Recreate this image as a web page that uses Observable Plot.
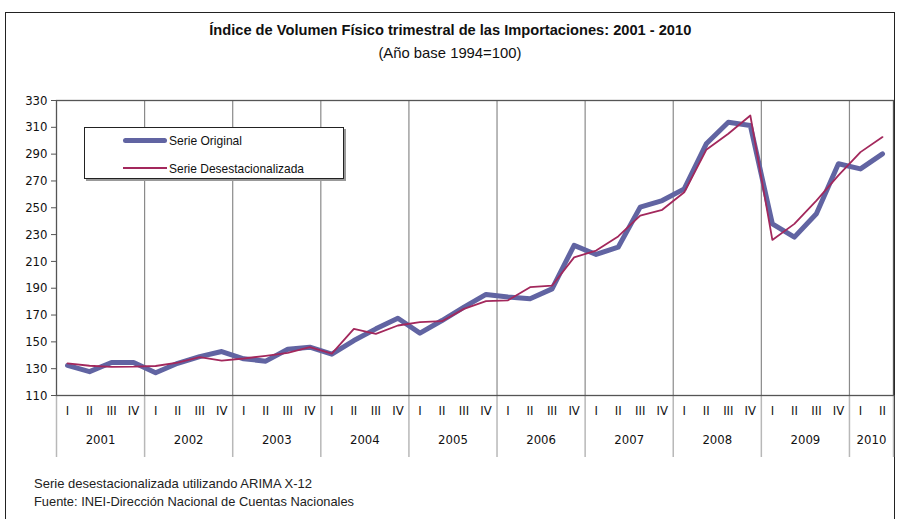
<!DOCTYPE html>
<html>
<head>
<meta charset="utf-8">
<script src="https://cdn.jsdelivr.net/npm/d3@7"></script>
<script src="https://cdn.jsdelivr.net/npm/@observablehq/plot@0.6"></script>
<style>
  html, body { margin: 0; padding: 0; background: #fff; }
  #wrap { position: relative; width: 900px; height: 519px; overflow: hidden;
    font-family: "Liberation Sans", Arial, sans-serif; color: #111; }
  #frame { position: absolute; left: 5px; top: 12px; width: 890px; height: 600px; border: 1.5px solid #222; box-sizing: border-box; }
  #chart { position: absolute; left: 0; top: 0; }
  .title { position: absolute; left: 0; width: 900px; text-align: center; white-space: nowrap; }
  .title span, #notes span, .li span { display: inline-block; white-space: nowrap; }
  #t1 { top: 21px; font-size: 15.5px; font-weight: bold; }
  #t2 { top: 45px; font-size: 14.5px; }
  #legend { position: absolute; left: 84px; top: 127px; width: 260px; height: 52px; border: 1px solid #222;
    background: #fff; box-sizing: border-box; box-shadow: 2px 2px 0 #999; font-size: 13.5px; }
  .li { position: absolute; left: 38px; height: 16px; display: flex; align-items: center; }
  .sw { width: 44px; margin-right: 2px; flex: none; }
  #notes { position: absolute; left: 34px; top: 475px; font-size: 13.5px; line-height: 18px; color: #222; }
  #notes div { height: 18px; }
</style>
</head>
<body>
<div id="wrap">
  <div id="frame"></div>
  <div id="chart"></div>
  <div class="title" id="t1"><span data-w="482">Índice de Volumen Físico trimestral de las Importaciones: 2001 - 2010</span></div>
  <div class="title" id="t2"><span data-w="143">(Año base 1994=100)</span></div>
  <div id="legend"></div>
  <div id="notes">
    <div><span data-w="278" data-left="1">Serie desestacionalizada utilizando ARIMA X-12</span></div>
    <div><span data-w="320" data-left="1">Fuente: INEI-Dirección Nacional de Cuentas Nacionales</span></div>
  </div>
</div>
<script>
const years = [2001, 2002, 2003, 2004, 2005, 2006, 2007, 2008, 2009, 2010];
const quarterLabels = ["I", "II", "III", "IV"];
const seriesNames = ["Serie Original", "Serie Desestacionalizada"];
const seriesColors = ["#6164a2", "#a3285c"];
const yTicks = [110, 130, 150, 170, 190, 210, 230, 250, 270, 290, 310, 330];

const original = [132.4, 127.8, 134.6, 134.6, 127.0, 134.0, 139.0, 142.8,
  137.4, 135.6, 144.5, 146.0, 140.8, 151.0, 159.7, 167.6,
  156.5, 165.9, 175.9, 185.4, 183.4, 182.1, 189.5, 222.0,
  215.2, 220.6, 250.5, 255.4, 264.1, 297.7, 313.8, 311.4,
  238.0, 228.1, 245.5, 282.8, 279.0, 290.2];
const desest = [134.0, 132.2, 131.4, 131.5, 132.0, 134.6, 138.6, 136.0,
  137.6, 139.6, 141.8, 146.0, 141.3, 159.7, 156.0, 162.2,
  164.7, 165.4, 174.6, 180.4, 181.0, 190.8, 192.0, 213.0,
  218.1, 228.6, 244.2, 248.5, 261.6, 293.2, 305.2, 318.8,
  226.0, 238.0, 255.4, 274.1, 291.5, 302.7];

const n = original.length;
const rows = d3.range(n).map(i => ({
  i,
  pos: i + 0.5,
  q: quarterLabels[i % 4],
  year: years[Math.floor(i / 4)],
  original: original[i],
  desest: desest[i]
}));
const yearRows = years.map((y, k) => {
  const start = k * 4, end = Math.min(start + 4, n);
  return { year: y, center: (start + end) / 2 };
});
const boundaries = years.map((y, k) => k * 4).concat([n]);

const chart = Plot.plot({
  width: 900,
  height: 519,
  marginLeft: 56,
  marginRight: 7,
  marginTop: 100,
  marginBottom: 124,
  style: { fontFamily: '"DejaVu Sans Condensed", "Liberation Sans", sans-serif', fontSize: "13px", color: "#111", background: "transparent" },
  x: { domain: [0, n], axis: null },
  y: { domain: [110, 330], ticks: yTicks, tickSize: 5, tickPadding: 4, label: null, tickFormat: d => String(d) },
  marks: [
    Plot.ruleX(boundaries.filter(b => b > 0 && b < n), { stroke: "#8a8a8a", strokeWidth: 1.2 }),
    Plot.ruleX(boundaries, { stroke: "#b8b8b8", strokeWidth: 1.5, insetTop: 295, insetBottom: -62 }),
    Plot.frame({ stroke: "#555", strokeWidth: 1.3 }),
    Plot.axisY({ ticks: yTicks, tickSize: 5, tickPadding: 4, stroke: "#555", fontSize: 13 }),
    Plot.line(rows, { x: "pos", y: "original", stroke: seriesColors[0], strokeWidth: 5, strokeLinejoin: "round" }),
    Plot.line(rows, { x: "pos", y: "desest", stroke: seriesColors[1], strokeWidth: 1.8, strokeLinejoin: "round" }),
    Plot.text(rows, { x: "pos", text: "q", frameAnchor: "bottom", dy: 19, fontSize: 13, fill: "#111" }),
    Plot.text(yearRows, { x: "center", text: d => String(d.year), frameAnchor: "bottom", dy: 48, fontSize: 13, fill: "#111" })
  ]
});
document.getElementById("chart").appendChild(chart);

const legend = document.getElementById("legend");
const legendWidths = [73, 135];
seriesNames.forEach((name, k) => {
  const item = document.createElement("div");
  item.className = "li";
  item.style.top = (k === 0 ? 4 : 32) + "px";
  const sw = document.createElement("div");
  sw.className = "sw";
  sw.style.height = (k === 0 ? 5 : 2) + "px";
  sw.style.background = seriesColors[k];
  sw.style.borderRadius = k === 0 ? "3px" : "0";
  const label = document.createElement("span");
  label.textContent = name;
  label.dataset.w = legendWidths[k];
  label.dataset.left = "1";
  item.appendChild(sw);
  item.appendChild(label);
  legend.appendChild(item);
});

// condense text horizontally (narrow typeface look)
document.querySelectorAll("span[data-w]").forEach(s => {
  const w = s.getBoundingClientRect().width;
  const target = +s.dataset.w;
  const k = target / w;
  s.style.transformOrigin = s.dataset.left ? "left center" : "center center";
  s.style.transform = `scaleX(${k})`;
});
</script>
</body>
</html>
